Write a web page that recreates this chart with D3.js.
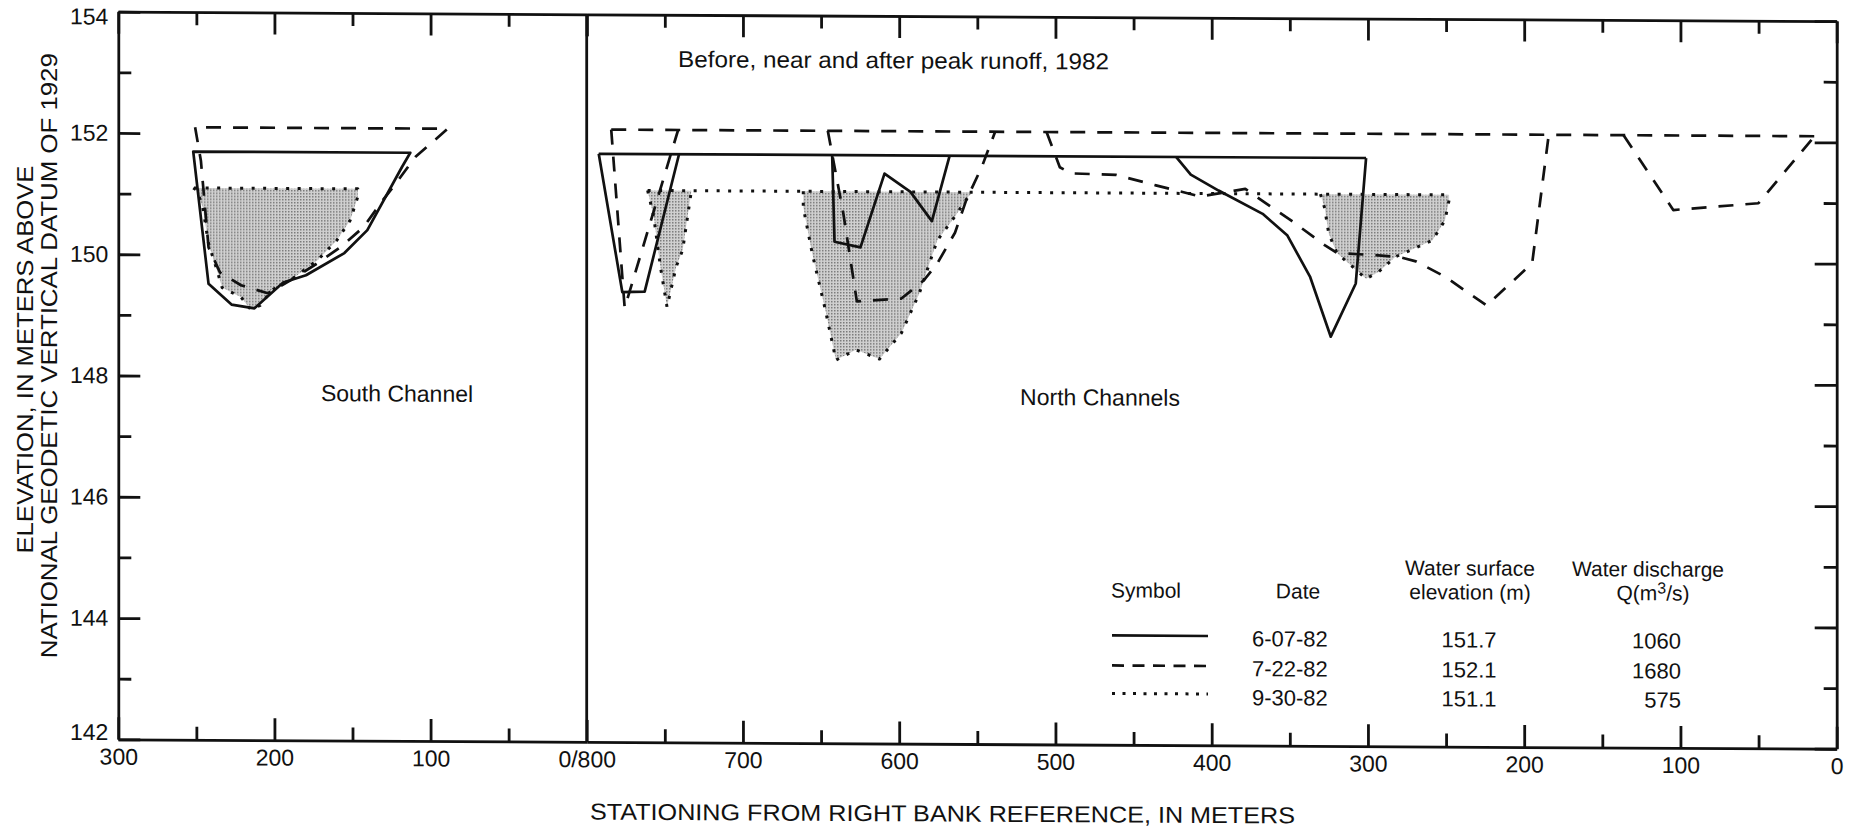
<!DOCTYPE html>
<html>
<head>
<meta charset="utf-8">
<script src="https://cdn.jsdelivr.net/npm/d3@7"></script>
<style>
  body { margin: 0; background: #fff; }
  svg { display: block; }
  text { font-family: "Liberation Sans", Arial, sans-serif; fill: #111; }
  .axis path, .axis line { stroke: #111; stroke-width: 2.8; }
  .axis text { font-size: 23px; fill: #111; }
</style>
</head>
<body>
<svg id="chart" width="1851" height="834"></svg>
<script>
// ---- Axis ticks and labels ----
const elevTicks = [142, 143, 144, 145, 146, 147, 148, 149, 150, 151, 152, 153, 154];
const southTicks = [300, 250, 200, 150, 100, 50, 0];
const northTicks = [800, 750, 700, 650, 600, 550, 500, 450, 400, 350, 300, 250, 200, 150, 100, 50, 0];
const southTickLabels = { 300: "300", 200: "200", 100: "100", 0: "0/800" };
const northTickLabels = { 700: "700", 600: "600", 500: "500", 400: "400", 300: "300", 200: "200", 100: "100", 0: "0" };

// ---- Surveys: [station (m), elevation (m)] ----
// South Channel
const south_0607 = [[252,151.7],[242.2,149.52],[227.5,149.18],[212.8,149.12],[194.4,149.55],[179.8,149.67],[155.2,150.04],[140.5,150.42],[118.4,151.46],[113,151.7]];
const south_0722 = [[250.8,152.1],[247.1,151.55],[242.2,150.12],[234.9,149.71],[221.4,149.5],[204.2,149.37],[189.5,149.59],[172.4,149.87],[157.6,150.14],[142.9,150.47],[130.7,150.91],[120.9,151.24],[109.8,151.63],[89,152.1]];
const south_0930 = [[252,151.1],[249.6,151.06],[245.9,150.78],[242.2,150.18],[237.3,149.79],[233.5,149.46],[221.3,149.3],[215.2,149.1],[209.1,149.17],[201.8,149.42],[187,149.64],[172.4,149.92],[160,150.25],[151.5,150.58],[146.6,150.97],[146.6,151.1]];

// North Channels: water-surface extent and the channel beds below it
const north_0607_surface = [792.3, 301.2];
const north_0607_beds = [
  [[792.3,151.7],[777.2,149.42],[762.9,149.43],[740.9,151.7]],
  [[642.9,151.7],[641.4,150.27],[624.8,150.18],[609.4,151.4],[592.8,151.1],[579.1,150.62],[567.7,151.7]],
  [[422.8,151.7],[413.4,151.41],[395.6,151.15],[367.4,150.77],[351.7,150.42],[337.1,149.74],[323.8,148.75],[307.8,149.63],[301.2,151.7]]
];
const north_0722_surface = [784.3, 14.2];
const north_0722_beds = [
  [[784.3,152.1],[775.7,149.16],[741.5,152.1]],
  [[645.7,152.1],[635.7,150.73],[627.1,149.29],[598.6,149.34],[584.3,149.64],[575.7,149.92],[564.3,150.43],[557.1,150.97],[547.1,151.52],[538.6,152.1]],
  [[505.7,152.1],[497.2,151.52],[490,151.42],[461.4,151.4],[435.7,151.23],[407.2,151.05],[378.5,151.18],[365,150.94],[349,150.66],[327.7,150.26],[319.8,150.13],[296,150.1],[280,150.07],[269.3,150.0],[250.7,149.75],[224.1,149.28],[194.9,149.98],[184.3,152.1]],
  [[136.4,152.1],[104.6,150.87],[50.1,150.99],[14.2,152.1]]
];
const north_0930_surface = [761, 248.1];
const north_0930_beds = [
  [[761,151.1],[757.1,150.67],[752.8,149.84],[748.6,149.18],[742.8,149.84],[738.6,150.12],[733,151.1]],
  [[661.4,151.1],[661.4,150.84],[655.7,150.08],[647.2,149.14],[640.5,148.32],[627.7,148.49],[612.6,148.34],[598.6,148.77],[587.1,149.43],[575.7,150.3],[564.3,150.7],[555.7,151.03],[552.8,151.1]],
  [[330.4,151.1],[327.7,150.87],[325.1,150.45],[319.8,150.13],[301.2,149.71],[293.3,149.82],[282.6,150.07],[258.7,150.35],[250.7,150.68],[248.1,151.01],[248.1,151.1]]
];

// ---- Legend table ----
const legendDates = ["6-07-82", "7-22-82", "9-30-82"];
const legendStages = ["151.7", "152.1", "151.1"];
const legendStageValues = [151.7, 152.1, 151.1];
const legendDischarge = ["1060", "1680", "575"];

// ---- Scales ----
const y = d3.scaleLinear().domain([142, 154]).range([739.3, 11.7]);
const xS = d3.scaleLinear().domain([300, 0]).range([118.3, 586.7]);
const xN = d3.scaleLinear().domain([800, 0]).range([586.7, 1836.7]);

const svg = d3.select("#chart");

// stipple shading for the low-flow cross section
const defs = svg.append("defs");
const pat = defs.append("pattern").attr("id", "stipple")
  .attr("width", 3).attr("height", 3).attr("patternUnits", "userSpaceOnUse");
pat.append("rect").attr("width", 3).attr("height", 3).attr("fill", "#d0d0d0");
pat.append("rect").attr("width", 1.5).attr("height", 1.5).attr("fill", "#7a7a7a");

// the printed sheet sits very slightly skewed on the page
const root = svg.append("g").attr("transform", "matrix(1,0.0055,0,1,0,-0.65)");

// ---- Axes ----
const major = (d, step) => d % step === 0;

function bottomAxis(scale, ticks, labels) {
  const g = root.append("g").attr("class", "axis").attr("transform", `translate(0,${y(142)})`)
    .call(d3.axisBottom(scale).tickValues(ticks).tickSizeOuter(0).tickSizeInner(0).tickPadding(9)
      .tickFormat(d => labels[d] || ""));
  g.selectAll(".tick line").attr("y2", d => major(d, 100) ? -22 : -13);
  return g;
}
function topAxis(scale, ticks) {
  const g = root.append("g").attr("class", "axis").attr("transform", `translate(0,${y(154)})`)
    .call(d3.axisTop(scale).tickValues(ticks).tickSizeOuter(0).tickSizeInner(0).tickFormat(""));
  g.selectAll(".tick line").attr("y2", d => major(d, 100) ? 22 : 13);
  return g;
}
bottomAxis(xS, southTicks, southTickLabels);
bottomAxis(xN, northTicks.filter(d => d !== 800), northTickLabels);
topAxis(xS, southTicks);
topAxis(xN, northTicks);

const gL = root.append("g").attr("class", "axis").attr("transform", `translate(${xS(300)},0)`)
  .call(d3.axisLeft(y).tickValues(elevTicks).tickSizeOuter(0).tickSizeInner(0).tickPadding(10)
    .tickFormat(d => d % 2 === 0 ? d : ""));
gL.selectAll(".tick line").attr("x2", d => major(d, 2) ? 22 : 13);
gL.selectAll(".tick text").attr("y", d => d === 154 ? 5 : d === 142 ? -7 : 0);

const gR = root.append("g").attr("class", "axis").attr("transform", `translate(${xN(0)},0)`)
  .call(d3.axisRight(y).tickValues(elevTicks).tickSizeOuter(0).tickSizeInner(0).tickFormat(""));
gR.selectAll(".tick line").attr("x2", d => major(d, 2) ? -22 : -13);

// divider between the two reaches
root.append("line").attr("x1", xN(800)).attr("x2", xN(800))
  .attr("y1", y(154)).attr("y2", y(142)).attr("stroke", "#111").attr("stroke-width", 2.8);

// ---- Line styles ----
const styles = {
  "0607": { dash: null },
  "0722": { dash: "15 12" },
  "0930": { dash: "3 8.5" }
};
const lineS = d3.line().x(d => xS(d[0])).y(d => y(d[1]));
const lineN = d3.line().x(d => xN(d[0])).y(d => y(d[1]));

function strokePath(g, d, key) {
  g.append("path").attr("d", d).attr("fill", "none").attr("stroke", "#111")
    .attr("stroke-width", key === "0930" ? 3 : 2.7)
    .attr("stroke-linejoin", "round")
    .attr("stroke-dasharray", styles[key].dash);
}

const plot = root.append("g");

// shaded areas (9-30-82)
plot.append("path").attr("d", lineS(south_0930) + "Z").attr("fill", "url(#stipple)");
north_0930_beds.forEach(b => plot.append("path").attr("d", lineN(b) + "Z").attr("fill", "url(#stipple)"));

// South Channel: closed sections (surface + bed)
strokePath(plot, lineS(south_0930) + "Z", "0930");
strokePath(plot, lineS(south_0722) + "Z", "0722");
strokePath(plot, lineS(south_0607) + "Z", "0607");

// North Channels: water surface, then beds
function north(surface, stage, beds, key) {
  strokePath(plot, lineN([[surface[0], stage], [surface[1], stage]]), key);
  beds.forEach(b => strokePath(plot, lineN(b), key));
}
north(north_0930_surface, legendStageValues[2], north_0930_beds, "0930");
north(north_0722_surface, legendStageValues[1], north_0722_beds, "0722");
north(north_0607_surface, legendStageValues[0], north_0607_beds, "0607");

// ---- Annotations ----
root.append("text").attr("x", 678).attr("y", 64).attr("font-size", 23)
  .attr("textLength", 431).attr("lengthAdjust", "spacingAndGlyphs")
  .text("Before, near and after peak runoff, 1982");
root.append("text").attr("x", 397).attr("y", 400).attr("font-size", 23).attr("text-anchor", "middle")
  .text("South Channel");
root.append("text").attr("x", 1100).attr("y", 400).attr("font-size", 23).attr("text-anchor", "middle")
  .text("North Channels");

root.append("text").attr("x", 590).attr("y", 817).attr("font-size", 23)
  .attr("textLength", 705).attr("lengthAdjust", "spacingAndGlyphs")
  .text("STATIONING FROM RIGHT BANK REFERENCE, IN METERS");

root.append("text").attr("transform", "translate(33,360) rotate(-90)").attr("text-anchor", "middle")
  .attr("font-size", 23).attr("textLength", 388).attr("lengthAdjust", "spacingAndGlyphs")
  .text("ELEVATION, IN METERS ABOVE");
root.append("text").attr("transform", "translate(57,356) rotate(-90)").attr("text-anchor", "middle")
  .attr("font-size", 23).attr("textLength", 605).attr("lengthAdjust", "spacingAndGlyphs")
  .text("NATIONAL GEODETIC VERTICAL DATUM OF 1929");

// ---- Legend ----
const lg = root.append("g").attr("font-size", 22).attr("transform", "translate(0,-7)");
const hdr = lg.append("g").attr("font-size", 21);
hdr.append("text").attr("x", 1111).attr("y", 599).text("Symbol");
hdr.append("text").attr("x", 1298).attr("y", 599).attr("text-anchor", "middle").text("Date");
hdr.append("text").attr("x", 1470).attr("y", 575).attr("text-anchor", "middle").text("Water surface");
hdr.append("text").attr("x", 1470).attr("y", 599).attr("text-anchor", "middle").text("elevation (m)");
hdr.append("text").attr("x", 1648).attr("y", 575).attr("text-anchor", "middle").text("Water discharge");
const q = hdr.append("text").attr("x", 1653).attr("y", 599).attr("text-anchor", "middle");
q.append("tspan").text("Q(m");
q.append("tspan").attr("dy", -7).attr("font-size", 16).text("3");
q.append("tspan").attr("dy", 7).text("/s)");

const rowLineY = [637, 667, 695];
const rowTextY = [647, 677, 706];
const keys = ["0607", "0722", "0930"];
const legendDash = { "0607": null, "0722": "12 8.5", "0930": "3 7.5" };
keys.forEach((k, i) => {
  lg.append("line").attr("x1", 1112).attr("x2", 1208).attr("y1", rowLineY[i]).attr("y2", rowLineY[i])
    .attr("stroke", "#111").attr("stroke-width", k === "0930" ? 3 : 2.7)
    .attr("stroke-dasharray", legendDash[k]);
  lg.append("text").attr("x", 1252).attr("y", rowTextY[i]).text(legendDates[i]);
  lg.append("text").attr("x", 1469).attr("y", rowTextY[i]).attr("text-anchor", "middle").text(legendStages[i]);
  lg.append("text").attr("x", 1681).attr("y", rowTextY[i]).attr("text-anchor", "end").text(legendDischarge[i]);
});
</script>
</body>
</html>
